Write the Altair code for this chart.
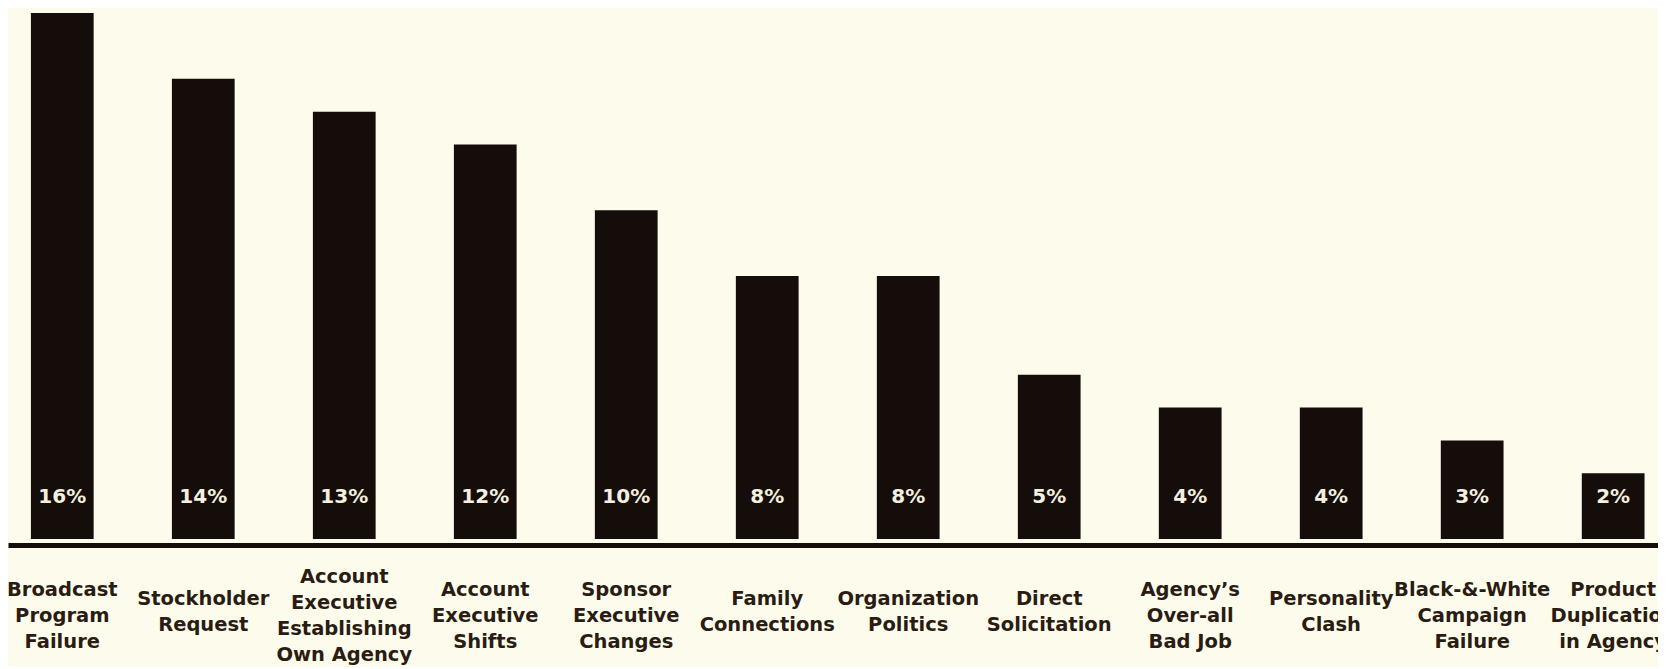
import altair as alt
import pandas as pd

categories = [
    "Broadcast|Program|Failure",
    "Stockholder|Request",
    "Account|Executive|Establishing|Own Agency",
    "Account|Executive|Shifts",
    "Sponsor|Executive|Changes",
    "Family|Connections",
    "Organization|Politics",
    "Direct|Solicitation",
    "Agency\u2019s|Over-all|Bad Job",
    "Personality|Clash",
    "Black-&-White|Campaign|Failure",
    "Product|Duplication|in Agency",
]
values = [16, 14, 13, 12, 10, 8, 8, 5, 4, 4, 3, 2]

df = pd.DataFrame({"category": categories, "value": values})

BG = "#fdfcec"
BAR = "#150d0a"
INK = "#2a1c13"
FONT = "DejaVu Sans"

nlines = "length(split(datum.value, '|'))"

x = alt.X(
    "category:N",
    sort=None,
    scale=alt.Scale(paddingInner=0.555, paddingOuter=0.129, align=0.63),
    axis=alt.Axis(
        title=None,
        ticks=False,
        domain=True,
        domainColor=BAR,
        domainWidth=5,
        offset=6,
        labelAngle=0,
        labelExpr="split(datum.label, '|')",
        labelBaseline="middle",
        labelPadding={
            "condition": [
                {"test": nlines + " == 2", "value": 53},
                {"test": nlines + " == 4", "value": 31},
            ],
            "value": 44,
        },
        labelLineHeight=26,
        labelFont=FONT,
        labelFontSize=19.5,
        labelFontWeight="bold",
        labelColor=INK,
        labelLimit=0,
        labelOverlap=False,
        labelFlush=False,
        labelBound=False,
    ),
)

bars = alt.Chart(df).mark_bar(color=BAR).encode(
    x=x,
    y=alt.Y("value:Q", scale=alt.Scale(domain=[0, 16], nice=False), axis=None),
)

pct = alt.Chart(df).transform_calculate(
    pct="datum.value + '%'"
).mark_text(
    color="#f4efdf", font=FONT, fontSize=20, fontWeight="bold",
    baseline="middle", align="center", dy=-42,
).encode(
    x=alt.X("category:N", sort=None),
    y=alt.datum(0),
    text="pct:N",
)

chart = alt.layer(bars, pct).properties(
    width=1650,
    height=526,
    autosize=alt.AutoSizeParams(type="none"),
    padding={"left": 0, "top": 5, "right": 0, "bottom": 128},
    background=BG,
).configure_view(stroke=None)

chart.save("out.html", embed_options={"renderer": "svg", "actions": False})
